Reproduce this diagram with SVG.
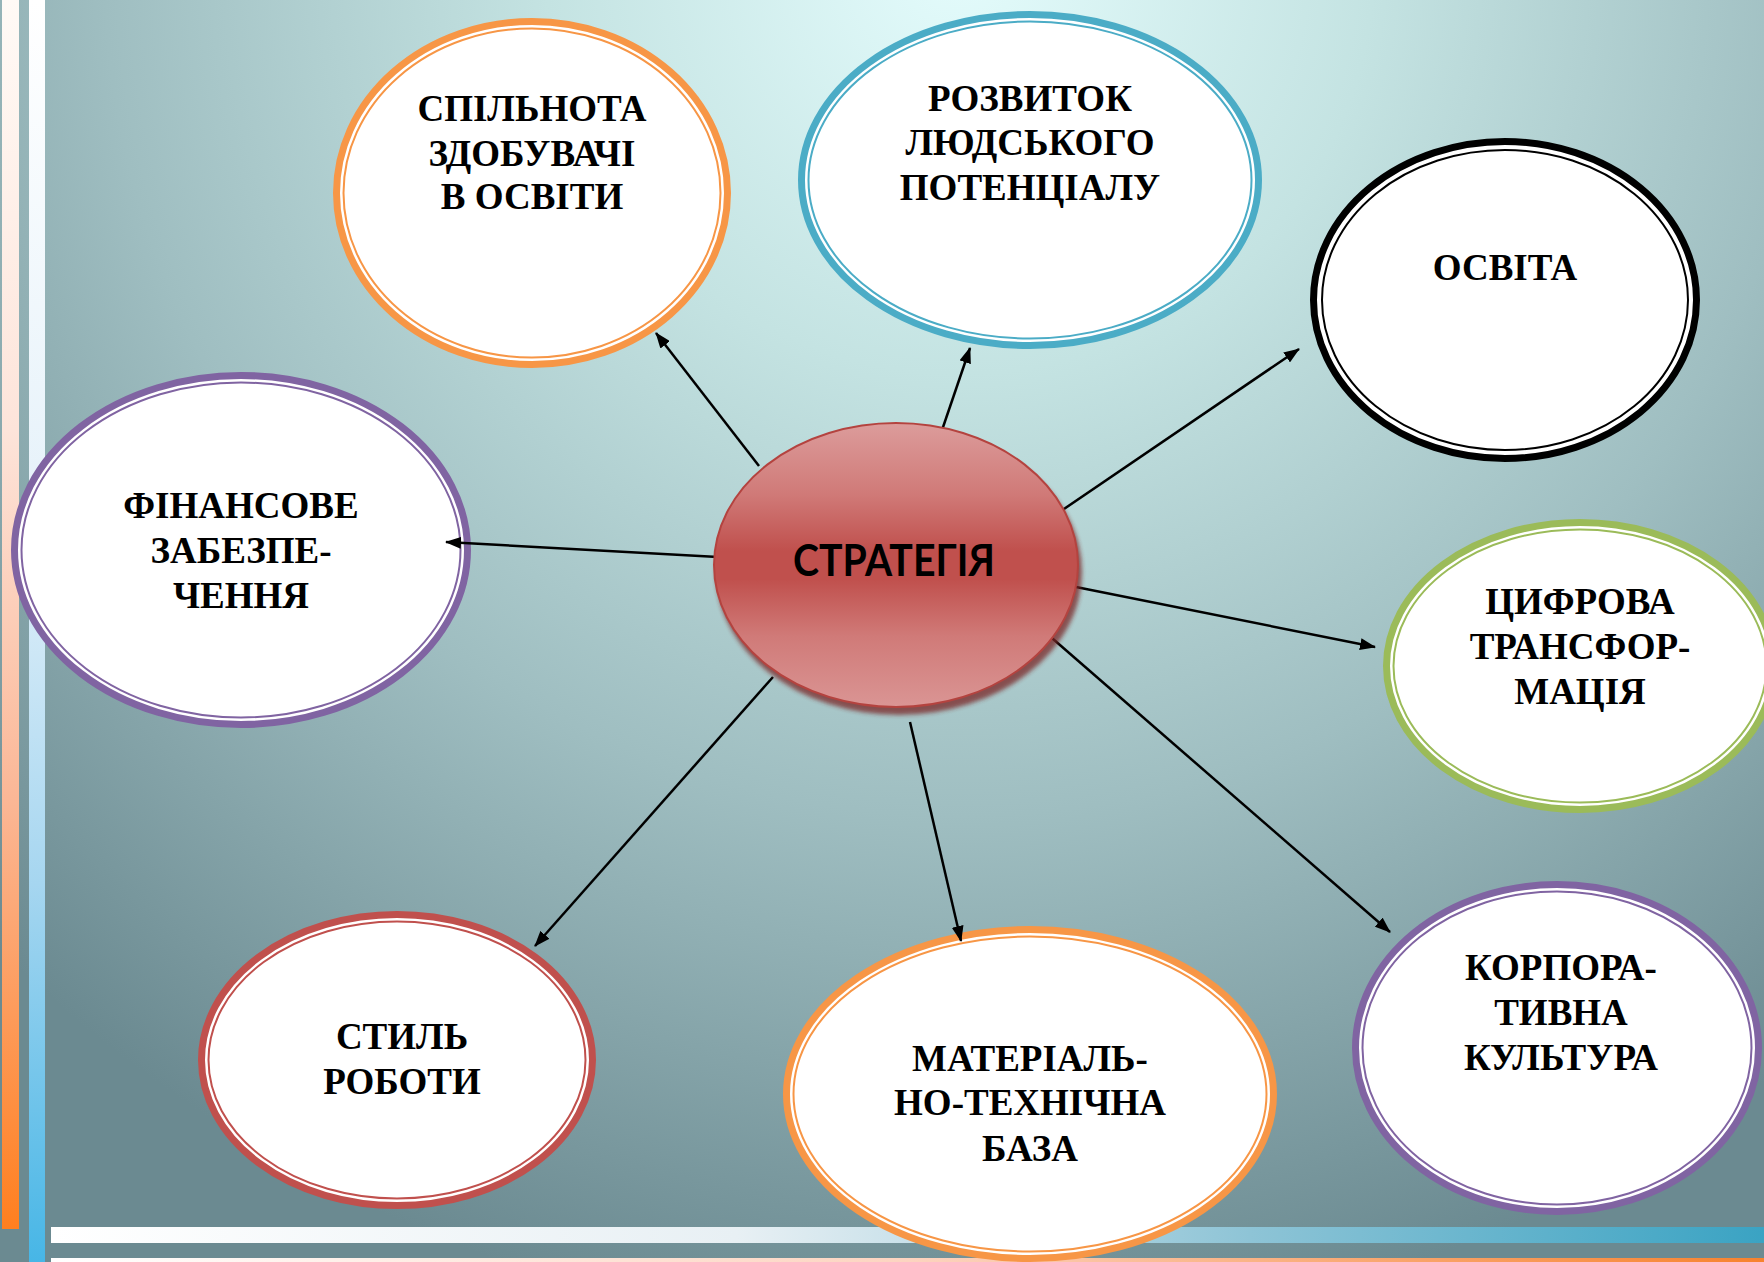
<svg xmlns="http://www.w3.org/2000/svg" width="1764" height="1262" viewBox="0 0 1764 1262">
  <defs>
    <radialGradient id="bg" gradientUnits="userSpaceOnUse" cx="960" cy="-40" r="1380">
      <stop offset="0" stop-color="#e4fcfc"/>
      <stop offset="0.3" stop-color="#c4e3e2"/>
      <stop offset="0.62" stop-color="#9fbec1"/>
      <stop offset="1" stop-color="#6b8a91"/>
    </radialGradient>
    <linearGradient id="stripeOrange" x1="0" y1="0" x2="0" y2="1">
      <stop offset="0" stop-color="#fffaf6"/>
      <stop offset="0.35" stop-color="#fde4da"/>
      <stop offset="0.65" stop-color="#fbb796"/>
      <stop offset="1" stop-color="#ff7f1f"/>
    </linearGradient>
    <linearGradient id="stripeBlue" x1="0" y1="0" x2="0" y2="1">
      <stop offset="0" stop-color="#ffffff"/>
      <stop offset="0.4" stop-color="#e6f2fa"/>
      <stop offset="0.7" stop-color="#a6d6f0"/>
      <stop offset="1" stop-color="#47b6e6"/>
    </linearGradient>
    <linearGradient id="barBlue" x1="0" y1="0" x2="1" y2="0">
      <stop offset="0" stop-color="#ffffff"/>
      <stop offset="0.4" stop-color="#e8f0f4"/>
      <stop offset="0.7" stop-color="#8ec4d6"/>
      <stop offset="1" stop-color="#3aa3c3"/>
    </linearGradient>
    <linearGradient id="barOrange" x1="0" y1="0" x2="1" y2="0">
      <stop offset="0" stop-color="#ffffff"/>
      <stop offset="0.5" stop-color="#fcd4c0"/>
      <stop offset="1" stop-color="#f7822e"/>
    </linearGradient>
    <linearGradient id="centerFill" x1="0" y1="0" x2="0" y2="1">
      <stop offset="0" stop-color="#dc9c9b"/>
      <stop offset="0.25" stop-color="#d07a78"/>
      <stop offset="0.45" stop-color="#c0504d"/>
      <stop offset="0.55" stop-color="#c0504d"/>
      <stop offset="0.75" stop-color="#d07a78"/>
      <stop offset="1" stop-color="#da9594"/>
    </linearGradient>
    <filter id="blur" x="-10%" y="-10%" width="120%" height="120%">
      <feGaussianBlur stdDeviation="2"/>
    </filter>
    <marker id="arrow" markerUnits="userSpaceOnUse" viewBox="0 0 16 12" markerWidth="16" markerHeight="12" refX="15" refY="6" orient="auto">
      <path d="M0,0 L16,6 L0,12 z" fill="#000"/>
    </marker>
  </defs>
  <style>
    .ring { fill: #ffffff; stroke-width: 7; }
    .thin { fill: none; stroke-width: 2; }
    .lbl { font-family: "Liberation Serif", "Times New Roman", serif; font-weight: bold; font-size: 37px; fill: #000; text-anchor: middle; }
    .conn line { stroke: #000; stroke-width: 2.5; marker-end: url(#arrow); }
  </style>

  <!-- background -->
  <rect x="0" y="0" width="1764" height="1262" fill="url(#bg)"/>
  <rect x="2" y="0" width="17" height="1229" fill="url(#stripeOrange)"/>
  <rect x="29" y="0" width="16" height="1262" fill="url(#stripeBlue)"/>
  <rect x="51" y="1227" width="1713" height="16" fill="url(#barBlue)"/>
  <rect x="51" y="1258" width="1713" height="4" fill="url(#barOrange)"/>

  <!-- nodes -->
  <g id="node-spilnota">
    <ellipse class="ring" cx="532" cy="193" rx="195.5" ry="171.5" stroke="#f79646"/>
    <ellipse class="thin" cx="532" cy="193" rx="188.5" ry="164.5" stroke="#f79646"/>
    <text class="lbl" x="532" y="121">СПІЛЬНОТА</text>
    <text class="lbl" x="532" y="166">ЗДОБУВАЧІ</text>
    <text class="lbl" x="532" y="209">В ОСВІТИ</text>
  </g>

  <g id="node-rozvytok">
    <ellipse class="ring" cx="1030" cy="180" rx="228.5" ry="165.5" stroke="#4bacc6"/>
    <ellipse class="thin" cx="1030" cy="180" rx="221.5" ry="158.5" stroke="#4bacc6"/>
    <text class="lbl" x="1030" y="111">РОЗВИТОК</text>
    <text class="lbl" x="1030" y="155">ЛЮДСЬКОГО</text>
    <text class="lbl" x="1030" y="200">ПОТЕНЦІАЛУ</text>
  </g>

  <g id="node-osvita">
    <ellipse class="ring" cx="1505" cy="300" rx="191.5" ry="158.5" stroke="#000000" stroke-width="9"/>
    <ellipse class="thin" cx="1505" cy="300" rx="183" ry="150" stroke="#000000" stroke-width="2.5"/>
    <text class="lbl" x="1505" y="280">ОСВІТА</text>
  </g>

  <g id="node-finansove">
    <ellipse class="ring" cx="241" cy="550" rx="226.5" ry="174.5" stroke="#8064a2"/>
    <ellipse class="thin" cx="241" cy="550" rx="219.5" ry="167.5" stroke="#8064a2"/>
    <text class="lbl" x="241" y="518">ФІНАНСОВЕ</text>
    <text class="lbl" x="241" y="563">ЗАБЕЗПЕ-</text>
    <text class="lbl" x="241" y="608">ЧЕННЯ</text>
  </g>

  <g id="node-tsyfrova">
    <ellipse class="ring" cx="1580" cy="666" rx="193.5" ry="143.5" stroke="#9bbb59"/>
    <ellipse class="thin" cx="1580" cy="666" rx="186.5" ry="136.5" stroke="#9bbb59"/>
    <text class="lbl" x="1580" y="614">ЦИФРОВА</text>
    <text class="lbl" x="1580" y="659">ТРАНСФОР-</text>
    <text class="lbl" x="1580" y="704">МАЦІЯ</text>
  </g>

  <g id="node-korporatyvna">
    <ellipse class="ring" cx="1557" cy="1048" rx="201.5" ry="163.5" stroke="#8064a2"/>
    <ellipse class="thin" cx="1557" cy="1048" rx="194.5" ry="156.5" stroke="#8064a2"/>
    <text class="lbl" x="1561" y="980">КОРПОРА-</text>
    <text class="lbl" x="1561" y="1025">ТИВНА</text>
    <text class="lbl" x="1561" y="1070">КУЛЬТУРА</text>
  </g>

  <g id="node-materialno">
    <ellipse class="ring" cx="1030" cy="1094" rx="243.5" ry="164.5" stroke="#f79646"/>
    <ellipse class="thin" cx="1030" cy="1094" rx="236.5" ry="157.5" stroke="#f79646"/>
    <text class="lbl" x="1030" y="1071">МАТЕРІАЛЬ-</text>
    <text class="lbl" x="1030" y="1115">НО-ТЕХНІЧНА</text>
    <text class="lbl" x="1030" y="1161">БАЗА</text>
  </g>

  <g id="node-styl">
    <ellipse class="ring" cx="397" cy="1060" rx="195.5" ry="145.5" stroke="#c0504d"/>
    <ellipse class="thin" cx="397" cy="1060" rx="188.5" ry="138.5" stroke="#c0504d"/>
    <text class="lbl" x="402" y="1049">СТИЛЬ</text>
    <text class="lbl" x="402" y="1094">РОБОТИ</text>
  </g>

  <!-- connectors -->
  <g id="connectors" class="conn">
    <line x1="759" y1="466" x2="656" y2="333"/>
    <line x1="940" y1="436" x2="970" y2="348"/>
    <line x1="1061" y1="511" x2="1299" y2="349"/>
    <line x1="718" y1="557" x2="446" y2="542"/>
    <line x1="1076" y1="587" x2="1375" y2="647"/>
    <line x1="1045" y1="632" x2="1390" y2="932"/>
    <line x1="910" y1="722" x2="961" y2="941"/>
    <line x1="773" y1="677" x2="535" y2="946"/>
  </g>

  <g id="node-strategiya">
    <ellipse cx="899" cy="572" rx="183" ry="143" fill="#7a2826" opacity="0.75" filter="url(#blur)"/>
    <ellipse cx="896" cy="565" rx="182" ry="142" fill="url(#centerFill)" stroke="#b4433f" stroke-width="2"/>
    <text x="894" y="576" font-family="Lato, 'Open Sans', 'Liberation Sans', sans-serif" font-weight="bold" font-size="43" text-anchor="middle" textLength="202" lengthAdjust="spacingAndGlyphs" fill="#000">СТРАТЕГІЯ</text>
  </g>
</svg>
